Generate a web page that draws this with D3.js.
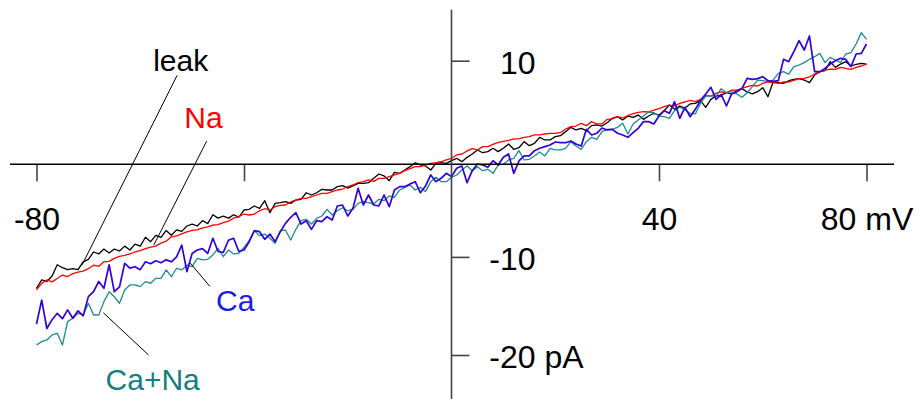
<!DOCTYPE html>
<html>
<head>
<meta charset="utf-8">
<script src="https://cdn.jsdelivr.net/npm/d3@7"></script>
<style>
  html, body { margin: 0; padding: 0; background: #fff; }
  svg { display: block; font-family: "Liberation Sans", Arial, sans-serif; }
</style>
</head>
<body>
<div class="chart"></div>
<script>
// voltage ramp -80..80 mV, one sample per mV
const vStart = -80;
const vStep = 1;

// currents in pA
const leak = [
  -13.2, -12.35, -12.5, -11.95, -10.8, -11.1, -11.3, -11.2, -11.3, -10.5,
  -10.25, -9.5, -9.7, -9.2, -9.6, -9.2, -9.4, -8.9, -9.3, -8.7,
  -8.9, -8.0, -8.45, -7.8, -8.0, -7.3, -7.8, -7.25, -7.4, -6.85,
  -6.65, -6.85, -6.3, -6.6, -5.7, -6.05, -5.85, -6.05, -5.7, -5.95,
  -5.22, -5.15, -4.81, -5.05, -4.27, -5.5, -4.54, -4.47, -4.37, -4.54,
  -4.2, -4.13, -3.46, -3.69, -3.46, -3.11, -3.18, -3.18, -2.84, -2.74,
  -2.98, -2.77, -2.5, -2.5, -2.43, -1.99, -1.55, -1.75, -2.23, -1.38,
  -1.48, -1.14, -0.8, -0.4, -0.63, -0.73, -1.14, -0.46, -0.4, -0.46,
  -0.19, 0.05,
  -0.29, 0.15, 0.49, 0.9, 0.62, 0.73, 1.07, 0.73, 1.07, 1.51,
  0.97, 1.13, 1.75, 1.34, 1.58, 2.19, 1.92, 1.92, 2.26, 2.36,
  2.77, 3.21, 2.94, 3.11, 2.87, 3.38, 3.45, 3.34, 3.68, 4.13,
  4.29, 3.96, 4.36, 4.23, 4.46, 4.02, 4.36, 4.64, 4.46, 4.91, 5.48,
  5.04, 5.38, 5.18, 5.59, 5.65, 5.93, 5.25, 6.06, 6.4, 6.5,
  6.74, 6.61, 6.95, 7.15, 6.81, 6.61, 6.84, 7.25, 6.33, 7.83,
  7.76, 7.69, 7.96, 8.1, 8.17, 8.03, 7.76, 8.54, 8.88, 8.98,
  9.9, 9.32, 9.66, 9.9, 9.46, 9.63, 9.73, 9.66
];
const na = [
  -13.37, -12.7, -12.35, -12.55, -12.2, -11.85, -12.0, -11.7, -11.55, -11.45,
  -11.2, -10.85, -10.95, -10.5, -10.45, -10.15, -9.95, -9.85, -9.7, -9.5,
  -9.35, -9.15, -9.0, -8.9, -8.6, -8.4, -7.95, -7.85, -7.65, -7.45,
  -7.3, -7.25, -7.05, -6.95, -6.75, -6.7, -6.5, -6.35, -6.05, -5.9,
  -5.63, -5.73, -5.63, -5.29, -5.09, -5.22, -4.88, -4.74, -4.71, -4.4,
  -4.2, -4.03, -4.03, -3.86, -3.69, -3.52, -3.52, -3.35, -3.18, -3.08,
  -2.84, -2.67, -2.43, -2.33, -2.16, -2.3, -1.99, -1.99, -1.82, -1.65,
  -1.48, -1.21, -1.01, -0.8, -0.8, -0.63, -0.46, -0.4, -0.3, -0.12,
  0.05, 0.39,
  0.49, 0.8, 1.03, 0.9, 1.24, 1.24, 1.47, 1.68, 1.78, 1.88,
  2.02, 2.05, 2.19, 2.26, 2.43, 2.43, 2.53, 2.6, 2.6, 2.66,
  3.04, 3.28, 3.34, 3.62, 3.38, 3.79, 3.55, 3.55, 4.02, 4.06,
  4.29, 4.16, 4.4, 4.6, 4.74, 4.8, 4.77, 4.97, 5.11, 5.31, 5.48,
  5.38, 5.65, 5.79, 5.96, 5.82, 6.06, 6.47, 6.4, 6.67, 6.81,
  6.74, 7.01, 7.01, 7.18, 7.35, 7.49, 7.42, 7.69, 7.83, 7.76,
  7.69, 7.83, 7.83, 8.0, 8.17, 8.2, 8.34, 8.64, 8.88, 9.05,
  9.15, 9.12, 9.32, 9.22, 9.12, 9.32, 9.46, 9.66
];
const ca = [
  -16.84, -14.4, -17.3, -16.4, -15.75, -16.3, -15.4, -16.25, -15.5, -16.0,
  -14.05, -13.55, -12.5, -13.2, -10.8, -13.55, -13.05, -10.65, -11.15, -11.0,
  -11.3, -10.5, -10.7, -10.4, -10.6, -10.3, -10.5, -10.0, -8.8, -11.5,
  -9.65, -9.3, -9.15, -9.65, -8.1, -9.45, -9.55, -8.3, -8.1, -9.45,
  -9.3, -8.45, -7.33, -7.43, -8.21, -7.67, -8.45, -7.43, -6.58, -5.96,
  -5.49, -6.65, -6.31, -7.19, -6.31, -6.41, -5.9, -6.24, -4.81, -4.71,
  -5.83, -5.05, -3.01, -4.71, -3.69, -4.71, -4.81, -3.69, -4.88, -3.18,
  -2.84, -2.84, -2.57, -2.33, -3.46, -2.77, -1.65, -2.33, -1.99, -1.48,
  -1.82, -0.97,
  -0.73, -2.43, -1.21, -0.53, -0.63, -0.87, -0.19, -0.63, 0.15, 0.49,
  -1.48, -0.22, 0.29, 0.29, 0.83, 1.07, 1.24, 1.41, 1.71, 1.64,
  1.64, 1.81, 1.51, 1.3, 3.0, 2.43, 2.6, 3.14, 2.94, 3.0,
  2.6, 2.43, 2.19, 2.66, 3.11, 3.79, 3.79, 3.55, 4.36, 4.91, 4.64,
  5.82, 4.13, 5.25, 4.29, 5.04, 5.93, 6.61, 7.29, 6.06, 6.54,
  5.38, 6.61, 6.84, 7.18, 8.2, 8.1, 8.17, 8.37, 7.96, 7.9,
  7.96, 10.14, 9.9, 10.92, 12.04, 11.09, 12.52, 8.88, 8.88, 9.22,
  9.66, 10.0, 10.24, 10.14, 9.39, 10.68, 10.75, 11.7
];
const caNa = [
  -18.98, -18.64, -18.47, -17.96, -17.79, -18.98, -16.6, -16.26, -15.75, -15.92,
  -14.73, -15.92, -15.92, -14.56, -13.55, -14.06, -14.73, -13.37, -12.86, -12.86,
  -13.03, -12.52, -12.69, -12.18, -12.18, -11.33, -12.02, -11.16, -11.33, -10.83,
  -11.0, -10.15, -10.31, -10.25, -9.8, -9.13, -9.98, -9.3, -9.7, -9.64,
  -9.02, -8.35, -7.33, -7.84, -7.67, -8.1, -8.61, -7.33, -7.26, -8.28,
  -7.19, -6.31, -6.17, -6.65, -6.07, -5.83, -5.15, -5.73, -5.29, -4.99,
  -5.29, -5.15, -4.54, -4.37, -4.47, -4.61, -4.13, -4.27, -3.79, -3.93,
  -3.18, -2.91, -2.67, -3.18, -2.91, -3.35, -2.33, -1.89, -2.33, -2.33,
  -1.89, -1.65,
  -1.14, -0.73, -1.21, -0.8, -1.21, -1.07, -1.48, -0.63, -0.56, -0.12,
  0.05, 0.83, -0.12, -0.05, 0.29, 0.69, 0.29, 1.07, 0.9, 0.9,
  1.07, 1.75, 1.3, 0.97, 1.75, 2.19, 1.98, 2.77, 3.0, 3.0,
  3.21, 3.62, 2.53, 3.55, 3.96, 4.36, 4.77, 4.7, 4.36, 4.29, 4.13,
  4.91, 5.25, 4.97, 4.63, 4.57, 5.65, 6.4, 6.4, 6.4, 7.15,
  6.74, 6.84, 6.61, 6.27, 6.74, 7.35, 8.03, 7.96, 7.86, 8.03,
  8.71, 8.88, 8.64, 9.39, 9.56, 9.8, 10.14, 10.41, 10.75, 9.8,
  10.34, 10.07, 9.8, 10.68, 10.82, 11.7, 12.86, 12.18
];

// tick labels
const xTicks = [-80, -40, 40, 80];
const xTickLabels = ["-80", "", "40", "80 mV"];
const yTicks = [10, -10, -20];
const yTickLabels = ["10", "-10", "-20"];

// trace names, label anchors (mV, pA) and leader lines (mV, pA -> mV, pA)
const traceNames = ["leak", "Na", "Ca+Na", "Ca"];
const traceColors = ["#000000", "#ff0000", "#1e8c8c", "#3300dd"];
const labelColors = ["#000000", "#ff0000", "#128080", "#1a1aee"];
const labelPos = [[-52.2, 8.9], [-47.8, 3.1], [-57.6, -23.6], [-41.7, -15.5]];
const leaderFrom = [[-52.9, 8.5], [-47.2, 1.8], [-67.1, -15.7], [-50.4, -10.6]];
const leaderTo = [[-71.2, -10.8], [-57.4, -8.8], [-58.4, -20.0], [-46.6, -13.0]];

const width = 920;
const height = 399;
const xAxisAt = -0.55;          // pA level where the voltage axis is drawn
const xAxisSpan = [-85.1, 85.3];
const yAxisSpan = [-24.6, 15.2];

const xScale = d3.scaleLinear().domain([-80, 80]).range([36.5, 866.5]);
const yScale = d3.scaleLinear().domain([-20, 10]).range([355, 60.7]);

const svg = d3.select("div.chart")
    .append("svg")
    .attr("width", width)
    .attr("height", height)
    .attr("viewBox", [0, 0, width, height]);

// traces
const series = [leak, na, caNa, ca];
const line = d3.line()
    .x((d, i) => xScale(vStart + i * vStep))
    .y(d => yScale(d));

svg.append("g")
    .attr("class", "traces")
    .attr("fill", "none")
    .selectAll("path")
    .data(series)
    .join("path")
    .attr("stroke", (d, i) => traceColors[i])
    .attr("stroke-width", (d, i) => i === 3 ? 1.7 : 1.3)
    .attr("stroke-linejoin", "round")
    .attr("d", line);

// voltage axis
const xAxis = svg.append("g")
    .attr("class", "xAxis")
    .attr("transform", `translate(0,${yScale(xAxisAt)})`)
    .call(d3.axisBottom(xScale)
        .tickValues(xTicks)
        .tickFormat((d, i) => xTickLabels[i])
        .tickSize(17)
        .tickPadding(26)
        .tickSizeOuter(0));
xAxis.select(".domain").remove();
xAxis.append("line")
    .attr("x1", xScale(xAxisSpan[0]))
    .attr("x2", xScale(xAxisSpan[1]))
    .attr("stroke", "#000")
    .attr("stroke-width", 1.6);

// current axis
const yAxis = svg.append("g")
    .attr("class", "yAxis")
    .attr("transform", `translate(${xScale(0)},0)`)
    .call(d3.axisRight(yScale)
        .tickValues(yTicks)
        .tickFormat((d, i) => yTickLabels[i])
        .tickSize(18)
        .tickPadding(66)
        .tickSizeOuter(0));
yAxis.select(".domain").remove();
yAxis.append("line")
    .attr("y1", yScale(yAxisSpan[0]))
    .attr("y2", yScale(yAxisSpan[1]))
    .attr("stroke", "#444")
    .attr("stroke-width", 1.6);
yAxis.selectAll(".tick text")
    .attr("text-anchor", "end")
    .attr("dy", "0.4em");
yAxis.selectAll(".tick")
    .filter(d => d === -20)
    .append("text")
    .attr("x", 84 + 9)
    .attr("dy", "0.4em")
    .attr("fill", "currentColor")
    .text("pA");

svg.selectAll(".tick line")
    .attr("stroke", "#444")
    .attr("stroke-width", 1.6);
svg.selectAll(".tick text")
    .attr("font-family", "Liberation Sans, Arial, sans-serif")
    .attr("font-size", 32)
    .attr("fill", "#000");

// leader lines and trace names
svg.append("g")
    .attr("class", "leaders")
    .selectAll("line")
    .data(traceNames)
    .join("line")
    .attr("x1", (d, i) => xScale(leaderFrom[i][0]))
    .attr("y1", (d, i) => yScale(leaderFrom[i][1]))
    .attr("x2", (d, i) => xScale(leaderTo[i][0]))
    .attr("y2", (d, i) => yScale(leaderTo[i][1]))
    .attr("stroke", "#000")
    .attr("stroke-width", 1);

svg.append("g")
    .attr("class", "names")
    .selectAll("text")
    .data(traceNames)
    .join("text")
    .attr("x", (d, i) => xScale(labelPos[i][0]))
    .attr("y", (d, i) => yScale(labelPos[i][1]))
    .attr("text-anchor", "middle")
    .attr("font-size", 30)
    .attr("fill", (d, i) => labelColors[i])
    .text(d => d);
</script>
</body>
</html>
